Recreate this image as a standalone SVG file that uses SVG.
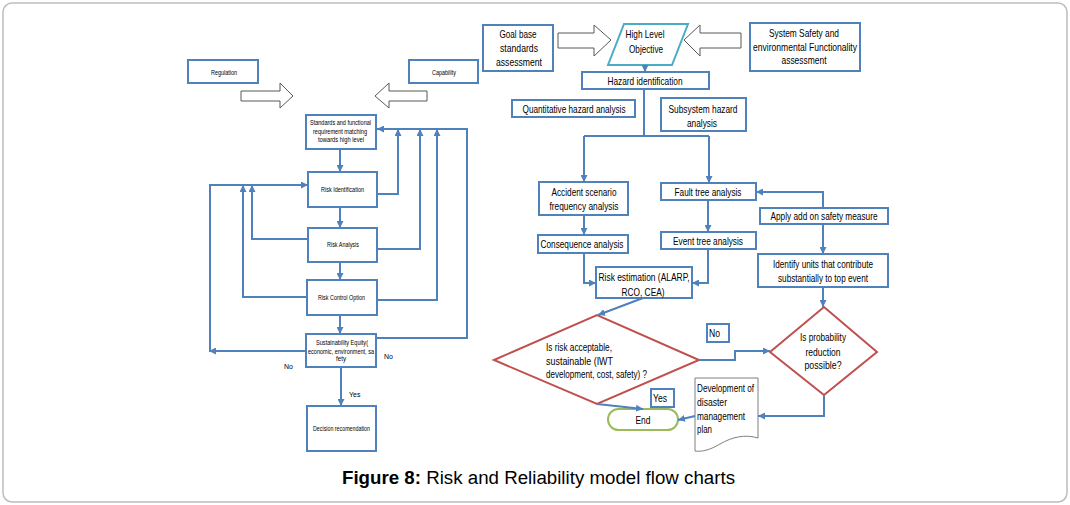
<svg xmlns="http://www.w3.org/2000/svg" width="1070" height="505" viewBox="0 0 1070 505">
<style>
.box{fill:#fff;stroke:#4f81bd;stroke-width:2}
.blk{fill:#fff;stroke:#595959;stroke-width:1}
.dia{fill:#fff;stroke:#c0504d;stroke-width:2}
.ln{fill:none;stroke:#4f81bd;stroke-width:2}
.t{font-family:"Liberation Sans",Arial,sans-serif;fill:#000}
.s{font-size:7px}
.r{font-size:11.5px}
.c{text-anchor:middle}
</style>
<defs>
<marker id="ah" viewBox="0 0 10 10" refX="10" refY="5" markerUnits="userSpaceOnUse" markerWidth="7" markerHeight="7" orient="auto">
<path d="M0,0 L10,5 L0,10 Z" fill="#4f81bd"/>
</marker>
</defs>
<rect x="3" y="3" width="1064" height="499" rx="9" fill="#fff" stroke="#bdbdbd" stroke-width="1.5"/>

<!-- Left chart -->
<g id="regulation"><rect class="box" x="188" y="60" width="70" height="23"/><text class="t s" x="211" y="75" textLength="26" lengthAdjust="spacingAndGlyphs">Regulation</text></g>
<g id="capability"><rect class="box" x="409" y="60" width="69" height="23"/><text class="t s" x="432" y="75" textLength="24" lengthAdjust="spacingAndGlyphs">Capability</text></g>
<g id="arrow-reg"><path class="blk" d="M241,91 H280 V83 L293,96 L280,108 V101 H241 Z"/></g>
<g id="arrow-cap"><path class="blk" d="M427,91 H389 V83 L375,96 L389,108 V101 H427 Z"/></g>
<g id="standards"><rect class="box" x="306" y="115" width="70" height="34"/>
<text class="t s" x="310" y="125" textLength="61" lengthAdjust="spacingAndGlyphs">Standards and functional</text>
<text class="t s" x="313" y="134" textLength="54" lengthAdjust="spacingAndGlyphs">requirement matching</text>
<text class="t s" x="318" y="142" textLength="46" lengthAdjust="spacingAndGlyphs">towards high level</text></g>
<g id="risk-identification"><rect class="box" x="308" y="172" width="69" height="35"/><text class="t s" x="321" y="192" textLength="43" lengthAdjust="spacingAndGlyphs">Risk Identification</text></g>
<g id="risk-analysis"><rect class="box" x="308" y="228" width="69" height="34"/><text class="t s" x="327" y="247" textLength="32" lengthAdjust="spacingAndGlyphs">Risk Analysis</text></g>
<g id="risk-control"><rect class="box" x="307" y="280" width="70" height="35"/><text class="t s" x="318" y="300" textLength="47" lengthAdjust="spacingAndGlyphs">Risk Control Option</text></g>
<g id="sustainability"><rect class="box" x="306" y="334" width="70" height="33"/>
<text class="t s" x="316" y="345" textLength="52" lengthAdjust="spacingAndGlyphs">Sustainability Equity(</text>
<text class="t s" x="308" y="354" textLength="66" lengthAdjust="spacingAndGlyphs">economic, environment, sa</text>
<text class="t s" x="336" y="361" textLength="10" lengthAdjust="spacingAndGlyphs">fety</text></g>
<g id="decision"><rect class="box" x="307" y="406" width="69" height="45"/><text class="t s" x="313" y="431" textLength="57" lengthAdjust="spacingAndGlyphs">Decision recomendation</text></g>
<g id="left-labels">
<text class="t s" x="349" y="397">Yes</text>
<text class="t s" x="384" y="359">No</text>
<text class="t s" x="284" y="369">No</text>
</g>

<!-- Right chart -->
<g id="goal-base"><rect class="box" x="483" y="25" width="70" height="46"/>
<text class="t r c" x="518" y="38" textLength="37" lengthAdjust="spacingAndGlyphs">Goal base</text>
<text class="t r c" x="519" y="52" textLength="38" lengthAdjust="spacingAndGlyphs">standards</text>
<text class="t r c" x="519" y="66" textLength="46" lengthAdjust="spacingAndGlyphs">assessment</text></g>
<g id="arrow-goal"><path class="blk" d="M558,33 H594 V25 L611,40 L594,56 V48 H558 Z"/></g>
<g id="high-level"><path d="M624,24 H688 L672,65 H608 Z" fill="#fff" stroke="#4bacc6" stroke-width="2"/>
<text class="t r c" x="645" y="38" textLength="39" lengthAdjust="spacingAndGlyphs">High Level</text>
<text class="t r c" x="646" y="53" textLength="34" lengthAdjust="spacingAndGlyphs">Objective</text></g>
<g id="arrow-sys"><path class="blk" d="M741,33 H700 V25 L684,40 L700,56 V48 H741 Z"/></g>
<g id="system-safety"><rect class="box" x="750" y="23" width="110" height="48"/>
<text class="t r c" x="804" y="37" textLength="70" lengthAdjust="spacingAndGlyphs">System Safety and</text>
<text class="t r c" x="805" y="51" textLength="104" lengthAdjust="spacingAndGlyphs">environmental  Functionality</text>
<text class="t r c" x="804" y="64" textLength="45" lengthAdjust="spacingAndGlyphs">assessment</text></g>
<g id="hazard-identification"><rect class="box" x="582" y="72" width="127" height="17"/><text class="t r c" x="645" y="85" textLength="75" lengthAdjust="spacingAndGlyphs">Hazard identification</text></g>
<g id="quantitative"><rect class="box" x="512" y="100" width="123" height="17"/><text class="t r c" x="574" y="113" textLength="103" lengthAdjust="spacingAndGlyphs">Quantitative hazard analysis</text></g>
<g id="subsystem"><rect class="box" x="661" y="98" width="85" height="33"/>
<text class="t r c" x="703" y="113" textLength="69" lengthAdjust="spacingAndGlyphs">Subsystem hazard</text>
<text class="t r c" x="702" y="127" textLength="30" lengthAdjust="spacingAndGlyphs">analysis</text></g>
<g id="accident"><rect class="box" x="539" y="182" width="89" height="33"/>
<text class="t r c" x="584" y="196" textLength="65" lengthAdjust="spacingAndGlyphs">Accident scenario</text>
<text class="t r c" x="584" y="210" textLength="69" lengthAdjust="spacingAndGlyphs">frequency analysis</text></g>
<g id="fault-tree"><rect class="box" x="661" y="183" width="95" height="17"/><text class="t r c" x="708" y="196" textLength="67" lengthAdjust="spacingAndGlyphs">Fault tree analysis</text></g>
<g id="consequence"><rect class="box" x="538" y="235" width="90" height="18"/><text class="t r c" x="582" y="248" textLength="83" lengthAdjust="spacingAndGlyphs">Consequence analysis</text></g>
<g id="event-tree"><rect class="box" x="661" y="232" width="95" height="17"/><text class="t r c" x="708" y="245" textLength="70" lengthAdjust="spacingAndGlyphs">Event tree analysis</text></g>
<g id="risk-estimation"><rect class="box" x="596" y="267" width="96" height="31"/>
<text class="t r c" x="644" y="281" textLength="91" lengthAdjust="spacingAndGlyphs">Risk estimation (ALARP,</text>
<text class="t r c" x="643" y="296" textLength="43" lengthAdjust="spacingAndGlyphs">RCO, CEA)</text></g>
<g id="apply-safety"><rect class="box" x="760" y="208" width="128" height="16"/><text class="t r c" x="824" y="220" textLength="107" lengthAdjust="spacingAndGlyphs">Apply add on safety measure</text></g>
<g id="identify-units"><rect class="box" x="758" y="254" width="130" height="33"/>
<text class="t r c" x="823" y="268" textLength="100" lengthAdjust="spacingAndGlyphs">Identify units that contribute</text>
<text class="t r c" x="823" y="282" textLength="90" lengthAdjust="spacingAndGlyphs">substantially to top event</text></g>
<g id="risk-acceptable"><path class="dia" d="M494,360 L597,315 L699,360 L597,404 Z"/>
<text class="t r" x="546" y="351" textLength="66" lengthAdjust="spacingAndGlyphs">Is risk acceptable,</text>
<text class="t r" x="546" y="365" textLength="67" lengthAdjust="spacingAndGlyphs">sustainable (IWT</text>
<text class="t r" x="546" y="378" textLength="101" lengthAdjust="spacingAndGlyphs">development, cost, safety) ?</text></g>
<g id="probability"><path class="dia" d="M770,352 L824,307 L877,352 L824,395 Z"/>
<text class="t r c" x="823" y="341" textLength="46" lengthAdjust="spacingAndGlyphs">Is probability</text>
<text class="t r c" x="823" y="356" textLength="35" lengthAdjust="spacingAndGlyphs">reduction</text>
<text class="t r c" x="823" y="369" textLength="37" lengthAdjust="spacingAndGlyphs">possible?</text></g>
<g id="no-label"><rect class="box" x="707" y="324" width="22" height="18"/><text class="t r" x="709" y="337" textLength="11" lengthAdjust="spacingAndGlyphs">No</text></g>
<g id="yes-label"><rect class="box" x="651" y="389" width="23" height="18"/><text class="t r" x="653" y="402" textLength="14" lengthAdjust="spacingAndGlyphs">Yes</text></g>
<g id="end"><rect x="608" y="409" width="70" height="21" rx="10.5" fill="#fff" stroke="#9bbb59" stroke-width="2"/><text class="t r c" x="643" y="424" textLength="15" lengthAdjust="spacingAndGlyphs">End</text></g>
<g id="disaster-plan"><path d="M695,378 H758 V438 C745,434 732,437 720,444 C710,450 702,452 695,451 Z" fill="#fff" stroke="#7f7f7f" stroke-width="1"/>
<text class="t r" x="697" y="392" textLength="57" lengthAdjust="spacingAndGlyphs">Development of</text>
<text class="t r" x="697" y="406" textLength="30" lengthAdjust="spacingAndGlyphs">disaster</text>
<text class="t r" x="697" y="420" textLength="48" lengthAdjust="spacingAndGlyphs">management</text>
<text class="t r" x="697" y="433" textLength="15" lengthAdjust="spacingAndGlyphs">plan</text></g>

<g id="connectors">
<!-- left chart -->
<path class="ln" d="M340,149 V172" marker-end="url(#ah)"/>
<path class="ln" d="M340,207 V228" marker-end="url(#ah)"/>
<path class="ln" d="M340,262 V280" marker-end="url(#ah)"/>
<path class="ln" d="M340,315 V334" marker-end="url(#ah)"/>
<path class="ln" d="M341,367 V406" marker-end="url(#ah)"/>
<path class="ln" d="M306,351 H209" marker-end="url(#ah)"/>
<path class="ln" d="M210,351 V185 H308" marker-end="url(#ah)"/>
<path class="ln" d="M307,297 H243 V185" marker-end="url(#ah)"/>
<path class="ln" d="M308,239 H252 V185" marker-end="url(#ah)"/>
<path class="ln" d="M377,194 H398 V129" marker-end="url(#ah)"/>
<path class="ln" d="M377,249 H420 V129" marker-end="url(#ah)"/>
<path class="ln" d="M377,300 H437 V129" marker-end="url(#ah)"/>
<path class="ln" d="M376,338 H467 V129 H377" marker-end="url(#ah)"/>
<!-- right chart -->
<path class="ln" d="M645,65 V72" marker-end="url(#ah)"/>
<path class="ln" d="M644,89 V136"/>
<path class="ln" d="M584,136 H709"/>
<path class="ln" d="M584,136 V182" marker-end="url(#ah)"/>
<path class="ln" d="M709,136 V183" marker-end="url(#ah)"/>
<path class="ln" d="M584,215 V235" marker-end="url(#ah)"/>
<path class="ln" d="M708,200 V232" marker-end="url(#ah)"/>
<path class="ln" d="M584,253 V283 H596" marker-end="url(#ah)"/>
<path class="ln" d="M708,249 V283 H692" marker-end="url(#ah)"/>
<path class="ln" d="M643,298 L598,315" marker-end="url(#ah)"/>
<path class="ln" d="M823,208 V192 H756" marker-end="url(#ah)"/>
<path class="ln" d="M823,224 V254" marker-end="url(#ah)"/>
<path class="ln" d="M823,287 V307" marker-end="url(#ah)"/>
<path class="ln" d="M699,360 H735 V351 H770" marker-end="url(#ah)"/>
<path class="ln" d="M824,395 V416 H758" marker-end="url(#ah)"/>
<path class="ln" d="M695,416 L678,420" marker-end="url(#ah)"/>
<path class="ln" d="M597,404 L643,409" marker-end="url(#ah)"/>
</g>

<text class="t" x="342" y="484" font-size="18" textLength="393" lengthAdjust="spacingAndGlyphs"><tspan font-weight="bold">Figure 8:</tspan> Risk and Reliability model flow charts</text>
</svg>
